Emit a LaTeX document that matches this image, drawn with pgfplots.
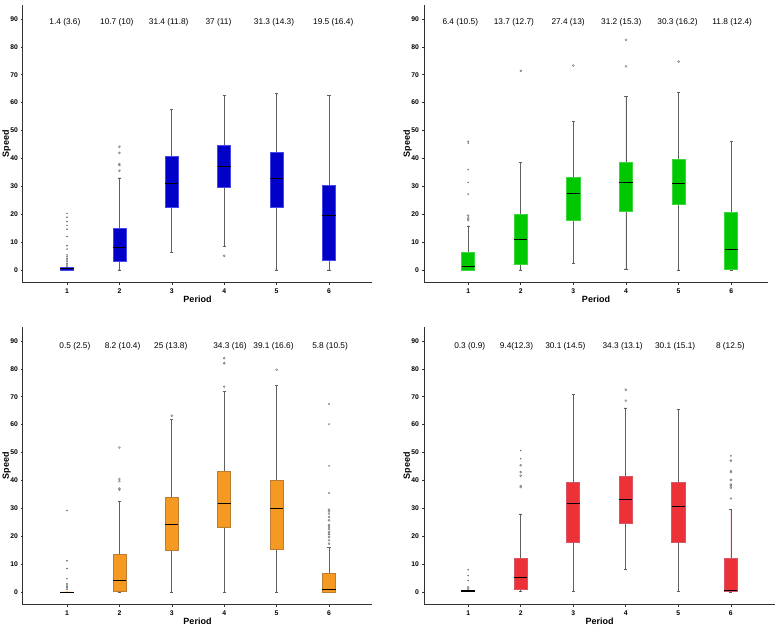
\documentclass[border=0pt]{standalone}
\usepackage{fontspec}
\setmainfont{Liberation Sans}
\usepackage{pgfplots}
\pgfplotsset{compat=1.18}
\usepgfplotslibrary{statistics}
\definecolor{bFill}{RGB}{0,0,200}
\definecolor{bEdge}{RGB}{70,70,235}
\definecolor{gFill}{RGB}{0,200,0}
\definecolor{gEdge}{RGB}{60,215,60}
\definecolor{oFill}{RGB}{244,154,34}
\definecolor{oEdge}{RGB}{190,125,50}
\definecolor{rFill}{RGB}{236,50,56}
\definecolor{rEdge}{RGB}{215,85,100}
\definecolor{whisk}{RGB}{95,95,95}
\definecolor{outl}{RGB}{110,110,110}
\definecolor{axc}{RGB}{50,50,50}

% box: draw pos, lower whisker, q1, median, q3, upper whisker, fill, edge
\newcommand{\bx}[8]{\addplot[boxplot prepared={draw position=#1, lower whisker=#2, lower quartile=#3, median=#4, upper quartile=#5, upper whisker=#6}, draw=#8, fill=#7, line width=0.7pt,
 boxplot/every whisker/.style={draw=whisk, line width=0.7pt},
 boxplot/every median/.style={draw=black, line width=0.9pt}] coordinates {};}

\pgfplotsset{
 panel/.style={
  scale only axis, height=278pt,
  xmin=0.16, ymin=-4.66, ymax=95,
  axis lines=left, axis line style={-, axc, line width=1pt},
  xtick={1,2,3,4,5,6}, ytick={0,10,...,90},
  tick align=outside, major tick length=2pt,
  tick style={axc, line width=0.6pt},
  /pgf/number format/assume math mode=true,
  tick label style={font=\fontsize{6.8}{8}\selectfont\bfseries},
  yticklabel style={xshift=0.5pt},
  xlabel={Period}, ylabel={Speed},
  xlabel style={font=\fontsize{9}{10}\selectfont\bfseries, at={(axis description cs:0.5,0)}, anchor=north, inner sep=0pt, yshift=-13pt},
  ylabel style={font=\fontsize{9}{10}\selectfont\bfseries, at={(axis description cs:0,0.5)}, anchor=south, inner sep=0pt, yshift=12pt},
  boxplot/draw direction=y, boxplot/box extend=0.25, boxplot/whisker extend=0.06,
  clip=false,
 },
 circ/.style={only marks, mark=o, mark size=1pt, mark options={draw=outl, line width=0.4pt}},
 star/.style={only marks, mark=*, mark size=0.55pt, mark options={draw=outl, fill=outl}},
}
\newcommand{\ann}[3]{\node[font=\fontsize{8.3}{10}\selectfont, inner sep=0pt] at (axis cs:#1,#2) {#3};}

\begin{document}
\begin{tikzpicture}[x=1pt,y=1pt]
\path (0,0) rectangle (777,631);
% ---------------- top left (blue)
\begin{axis}[panel, at={(23pt,348pt)}, anchor=south west, width=349pt, xmax=6.82]
\bx{1}{0}{0}{0.4}{0.8}{0.8}{bFill}{bEdge}
\bx{2}{0}{3.2}{8.2}{14.9}{33.0}{bFill}{bEdge}
\bx{3}{6.3}{22.5}{31.2}{40.8}{57.6}{bFill}{bEdge}
\bx{4}{8.4}{29.5}{37.1}{44.6}{62.6}{bFill}{bEdge}
\bx{5}{0}{22.5}{32.7}{42.2}{63.3}{bFill}{bEdge}
\bx{6}{0}{3.5}{19.6}{30.2}{62.7}{bFill}{bEdge}
\addplot[star] coordinates {(1,1.2) (1,1.8) (1,2.4) (1,3.0) (1,3.6) (1,4.2) (1,4.8) (1,5.4) (1,7.5) (1,8.7) (1,12.0) (1,14.6) (1,16.0) (1,17.4) (1,18.9) (1,20.3)};
\addplot[circ] coordinates {(2,35.6) (2,37.6) (2,38.0) (2,42.0) (2,44.2) (4,5.1)};
\ann{0.96}{88.8}{1.4 (3.6)}
\ann{1.95}{88.8}{10.7 (10)}
\ann{2.94}{88.8}{31.4 (11.8)}
\ann{3.89}{88.8}{37 (11)}
\ann{4.95}{88.8}{31.3 (14.3)}
\ann{6.08}{88.8}{19.5 (16.4)}
\end{axis}
% ---------------- top right (green)
\begin{axis}[panel, at={(424pt,348pt)}, anchor=south west, width=344pt, xmax=6.7]
\bx{1}{0}{0}{1.3}{6.3}{15.8}{gFill}{gEdge}
\bx{2}{0}{2.2}{11.1}{20.0}{38.6}{gFill}{gEdge}
\bx{3}{2.4}{17.7}{27.5}{33.2}{53.3}{gFill}{gEdge}
\bx{4}{0.4}{20.9}{31.3}{38.7}{62.3}{gFill}{gEdge}
\bx{5}{0}{23.7}{31.1}{39.8}{63.5}{gFill}{gEdge}
\bx{6}{0}{0.4}{7.2}{20.6}{46.1}{gFill}{gEdge}
\addplot[circ] coordinates {(1,17.9) (1,18.6) (1,19.5) (2,71.4) (3,73.3) (4,73.0) (4,82.5) (5,74.7)};
\addplot[star] coordinates {(1,27.2) (1,31.4) (1,36.0) (1,45.5) (1,46.1)};
\ann{0.85}{88.8}{6.4 (10.5)}
\ann{1.87}{88.8}{13.7 (12.7)}
\ann{2.90}{88.8}{27.4 (13)}
\ann{3.91}{88.8}{31.2 (15.3)}
\ann{4.98}{88.8}{30.3 (16.2)}
\ann{6.02}{88.8}{11.8 (12.4)}
\end{axis}
% ---------------- bottom left (orange)
\begin{axis}[panel, at={(23pt,26pt)}, anchor=south west, width=349pt, xmax=6.82]
\bx{1}{0}{0}{0}{0}{0}{oFill}{black}
\bx{2}{0}{0.4}{4.1}{13.6}{32.6}{oFill}{oEdge}
\bx{3}{0}{14.8}{24.1}{33.9}{61.9}{oFill}{oEdge}
\bx{4}{0}{23.2}{31.8}{43.1}{71.8}{oFill}{oEdge}
\bx{5}{0}{15.3}{30.0}{39.9}{74.2}{oFill}{oEdge}
\bx{6}{0}{0}{0.8}{6.6}{16.1}{oFill}{oEdge}
\addplot[star] coordinates {(1,1.0) (1,1.5) (1,2.0) (1,2.5) (1,3.0) (1,4.8) (1,8.4) (1,11.2) (1,29.2) (6,35.5) (6,45.2) (6,60.2) (6,67.4)};
\addplot[circ] coordinates {(2,36.7) (2,37.1) (2,39.7) (2,40.5) (2,51.8) (3,63.2) (4,73.6) (4,82.0) (4,83.8) (5,79.7)
 (6,17.3) (6,18.5) (6,19.7) (6,20.7) (6,21.5) (6,22.5) (6,23.3) (6,24.0) (6,25.7) (6,26.9) (6,28.1) (6,28.9) (6,29.5)};
\ann{1.15}{88.2}{0.5 (2.5)}
\ann{2.06}{88.2}{8.2 (10.4)}
\ann{2.98}{88.2}{25 (13.8)}
\ann{4.11}{88.2}{34.3 (16)}
\ann{4.94}{88.2}{39.1 (16.6)}
\ann{6.02}{88.2}{5.8 (10.5)}
\end{axis}
% ---------------- bottom right (red)
\begin{axis}[panel, at={(424pt,26pt)}, anchor=south west, width=351pt, xmax=6.84]
\bx{1}{0.1}{0.1}{0.3}{0.5}{0.5}{rFill}{black}
\bx{2}{0.2}{1.1}{5.3}{12.2}{28.0}{rFill}{rEdge}
\bx{3}{0.3}{17.8}{31.7}{39.3}{70.8}{rFill}{rEdge}
\bx{4}{8.1}{24.5}{33.2}{41.5}{66.0}{rFill}{rEdge}
\bx{5}{0.3}{17.7}{30.5}{39.4}{65.3}{rFill}{rEdge}
\bx{6}{0}{0.1}{0.5}{12.0}{29.6}{rFill}{rEdge}
\addplot[star] coordinates {(1,8.0) (1,5.9) (1,4.1) (2,47.8) (2,50.7) (6,48.8)};
\addplot[circ] coordinates {(1,1.7) (1,1.1) (2,37.6) (2,38.0) (2,41.7) (2,43.0) (2,45.4) (4,68.6) (4,72.5)
 (6,33.5) (6,37.4) (6,38.1) (6,38.5) (6,40.2) (6,42.9) (6,43.4) (6,47.1)};
\ann{1.03}{88.2}{0.3 (0.9)}
\ann{1.92}{88.2}{9.4(12.3)}
\ann{2.85}{88.2}{30.1 (14.5)}
\ann{3.94}{88.2}{34.3 (13.1)}
\ann{4.94}{88.2}{30.1 (15.1)}
\ann{5.99}{88.2}{8 (12.5)}
\end{axis}
\end{tikzpicture}
\end{document}
